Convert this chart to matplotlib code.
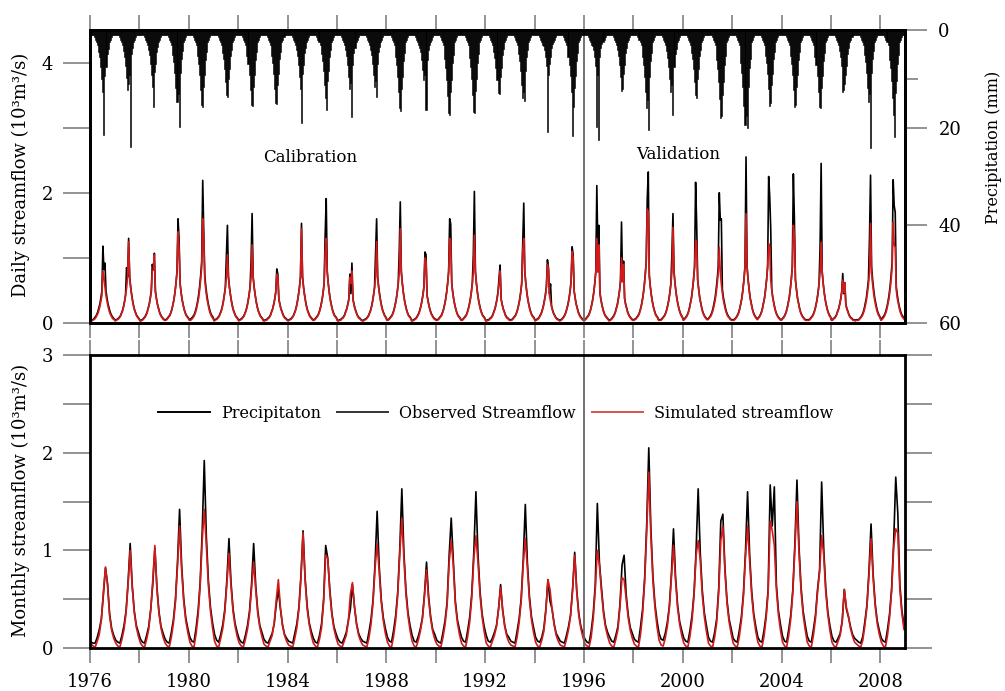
import matplotlib
matplotlib.use("Agg")
import matplotlib.pyplot as plt
from matplotlib.lines import Line2D
from matplotlib.ticker import MultipleLocator, FixedLocator
import numpy as np

plt.rcParams['font.family'] = 'DejaVu Serif'

# ---------------------------------------------------------------- data
years = np.arange(1976, 2009)
split_year = 1996

# daily panel, sampled twice a month (10^3 m3/s), one row per year
daily_obs = [
    [.04,.04,.05,.06,.08,.10,.13,.17, .23,.29,.38,.49,1.18,.82,.92,.49, .38,.29,.23,.17,.13,.10,.08,.06],  # 1976
    [.04,.05,.06,.07,.09,.11,.15,.19, .25,.33,.43,.85,.71,1.30,.71,.55, .43,.33,.25,.19,.15,.11,.09,.07],  # 1977
    [.04,.04,.05,.06,.08,.10,.13,.17, .23,.29,.38,.49,.90,.82,1.07,.49, .38,.29,.23,.17,.13,.10,.08,.06],  # 1978
    [.05,.05,.06,.08,.10,.12,.16,.21, .28,.36,.47,.61,.79,1.60,1.30,.61, .47,.36,.28,.21,.16,.12,.10,.08],  # 1979
    [.05,.06,.07,.09,.11,.14,.19,.25, .33,.43,.56,.73,.94,2.19,1.40,.73, .56,.43,.33,.25,.19,.14,.11,.09],  # 1980
    [.04,.05,.06,.07,.09,.11,.15,.19, .25,.33,.43,.55,1.02,1.50,.71,.55, .43,.33,.25,.19,.15,.11,.09,.07],  # 1981
    [.04,.05,.06,.07,.09,.11,.15,.19, .25,.33,.43,.55,.95,1.68,.71,.55, .43,.33,.25,.19,.15,.11,.09,.07],  # 1982
    [.04,.04,.05,.05,.07,.08,.10,.13, .18,.22,.29,.37,.48,.83,.75,.37, .29,.22,.18,.13,.10,.08,.07,.05],  # 1983
    [.04,.05,.06,.07,.09,.11,.15,.19, .25,.33,.43,.55,.71,1.53,.71,.55, .43,.33,.25,.19,.15,.11,.09,.07],  # 1984
    [.05,.05,.06,.08,.10,.12,.16,.21, .28,.36,.47,.61,1.35,1.91,.79,.61, .47,.36,.28,.21,.16,.12,.10,.08],  # 1985
    [.04,.04,.05,.05,.07,.08,.10,.13, .18,.22,.29,.37,.75,.45,.92,.37, .29,.22,.18,.13,.10,.08,.07,.05],  # 1986
    [.04,.04,.05,.06,.07,.09,.11,.15, .19,.25,.33,.43,.55,1.10,1.60,.71, .55,.43,.33,.25,.19,.15,.11,.09],  # 1987
    [.05,.05,.06,.08,.10,.12,.16,.21, .28,.36,.47,.61,1.10,1.86,.79,.61, .47,.36,.28,.21,.16,.12,.10,.08],  # 1988
    [.04,.04,.05,.06,.07,.09,.12,.15, .20,.26,.34,.43,.56,1.09,1.05,.43, .34,.26,.20,.15,.12,.09,.07,.06],  # 1989
    [.05,.05,.06,.08,.10,.12,.16,.21, .28,.36,.47,.61,.79,1.60,1.52,.61, .47,.36,.28,.21,.16,.12,.10,.08],  # 1990
    [.05,.05,.06,.08,.10,.12,.16,.21, .28,.36,.47,.61,1.05,2.02,.79,.61, .47,.36,.28,.21,.16,.12,.10,.08],  # 1991
    [.04,.04,.05,.05,.07,.08,.10,.13, .18,.22,.29,.37,.48,.70,.89,.37, .29,.22,.18,.13,.10,.08,.07,.05],  # 1992
    [.05,.05,.06,.08,.10,.12,.16,.21, .28,.36,.47,.61,1.20,1.84,.79,.61, .47,.36,.28,.21,.16,.12,.10,.08],  # 1993
    [.04,.05,.06,.07,.09,.12,.15,.20, .26,.34,.43,.56,.97,.85,.45,.60, .26,.20,.15,.12,.09,.07,.06,.05],  # 1994
    [.04,.05,.06,.08,.10,.13,.17,.23, .29,.38,.49,.64,1.17,1.05,.49,.38, .29,.23,.17,.13,.10,.08,.06,.05],  # 1995
    [.05,.06,.08,.10,.12,.16,.21,.28, .36,.47,.61,.79,2.11,1.10,1.50,.47, .36,.28,.21,.16,.12,.10,.08,.06],  # 1996
    [.04,.05,.06,.08,.10,.13,.17,.23, .29,.38,.49,.64,1.55,.64,.95,.38, .29,.23,.17,.13,.10,.08,.06,.05],  # 1997
    [.05,.06,.07,.09,.11,.14,.19,.25, .33,.43,.56,.73,.94,1.90,2.32,.73, .56,.43,.33,.25,.19,.14,.11,.09],  # 1998
    [.05,.05,.05,.06,.08,.10,.12,.16, .21,.28,.36,.47,.61,1.07,1.68,.79, .61,.47,.36,.28,.21,.16,.12,.10],  # 1999
    [.05,.06,.08,.10,.13,.17,.23,.31, .39,.52,.67,.87,2.16,1.55,.67,.52, .39,.31,.23,.17,.13,.10,.08,.06],  # 2000
    [.06,.08,.10,.13,.17,.23,.31,.39, .52,.67,.87,2.00,1.58,1.60,.52,.39, .31,.23,.17,.13,.10,.08,.06,.05],  # 2001
    [.05,.05,.06,.08,.10,.13,.17,.23, .31,.39,.52,.67,.87,2.55,.87,.67, .52,.39,.31,.23,.17,.13,.10,.08],  # 2002
    [.06,.08,.10,.13,.17,.23,.31,.39, .52,.67,.87,2.25,1.95,1.45,.52,.39, .31,.23,.17,.13,.10,.08,.06,.05],  # 2003
    [.06,.08,.10,.13,.17,.23,.31,.39, .52,.67,.87,2.29,1.60,.67,.52,.39, .31,.23,.17,.13,.10,.08,.06,.05],  # 2004
    [.05,.05,.05,.06,.08,.10,.12,.16, .21,.28,.36,.47,.61,1.20,2.45,.79, .61,.47,.36,.28,.21,.16,.12,.10],  # 2005
    [.05,.05,.07,.08,.10,.13,.18,.22, .29,.37,.48,.76,.45,.62,.29,.22, .18,.13,.10,.08,.07,.05,.05,.04],  # 2006
    [.05,.05,.05,.06,.08,.10,.13,.17, .23,.31,.39,.52,.67,1.30,2.27,.87, .67,.52,.39,.31,.23,.17,.13,.10],  # 2007
    [.06,.07,.09,.11,.14,.19,.25,.33, .43,.56,.73,.94,2.20,1.80,1.70,.56, .43,.33,.25,.19,.14,.11,.09,.07],  # 2008
]

daily_sim = [
    [.03,.03,.04,.05,.06,.08,.11,.14, .19,.25,.33,.42,.80,.71,.55,.42, .33,.25,.19,.14,.11,.08,.06,.05],  # 1976
    [.03,.04,.05,.06,.08,.10,.14,.18, .24,.32,.42,.54,.70,1.25,.70,.54, .42,.32,.24,.18,.14,.10,.08,.06],  # 1977
    [.03,.03,.04,.05,.07,.09,.12,.16, .22,.28,.37,.48,.80,.81,1.05,.48, .37,.28,.22,.16,.12,.09,.07,.05],  # 1978
    [.04,.04,.05,.07,.09,.11,.15,.20, .27,.35,.46,.60,.78,1.40,1.15,.60, .46,.35,.27,.20,.15,.11,.09,.07],  # 1979
    [.04,.04,.05,.07,.09,.12,.16,.22, .30,.38,.51,.66,.86,1.60,1.30,.66, .51,.38,.30,.22,.16,.12,.09,.07],  # 1980
    [.03,.04,.05,.06,.08,.10,.14,.18, .24,.32,.42,.54,.70,1.05,.70,.54, .42,.32,.24,.18,.14,.10,.08,.06],  # 1981
    [.03,.04,.05,.06,.08,.10,.14,.18, .24,.32,.42,.54,.70,1.20,.70,.54, .42,.32,.24,.18,.14,.10,.08,.06],  # 1982
    [.03,.03,.04,.04,.06,.07,.09,.12, .17,.21,.28,.36,.47,.75,.70,.36, .28,.21,.17,.12,.09,.07,.06,.04],  # 1983
    [.03,.04,.05,.06,.08,.10,.14,.18, .24,.32,.42,.54,.70,1.45,.70,.54, .42,.32,.24,.18,.14,.10,.08,.06],  # 1984
    [.04,.04,.05,.07,.09,.11,.15,.20, .27,.35,.46,.60,1.10,1.30,.78,.60, .46,.35,.27,.20,.15,.11,.09,.07],  # 1985
    [.03,.03,.04,.04,.06,.07,.09,.12, .17,.21,.28,.36,.70,.61,.80,.36, .28,.21,.17,.12,.09,.07,.06,.04],  # 1986
    [.03,.03,.04,.05,.06,.08,.10,.14, .18,.24,.32,.42,.54,.70,1.25,.70, .54,.42,.32,.24,.18,.14,.10,.08],  # 1987
    [.04,.04,.05,.07,.09,.11,.15,.20, .27,.35,.46,.60,.78,1.45,.78,.60, .46,.35,.27,.20,.15,.11,.09,.07],  # 1988
    [.03,.03,.04,.05,.06,.08,.11,.14, .19,.25,.33,.42,.55,1.00,.95,.42, .33,.25,.19,.14,.11,.08,.06,.05],  # 1989
    [.04,.04,.05,.07,.09,.11,.15,.20, .27,.35,.46,.60,.78,1.30,1.25,.60, .46,.35,.27,.20,.15,.11,.09,.07],  # 1990
    [.04,.04,.05,.07,.09,.11,.15,.20, .27,.35,.46,.60,.78,1.35,.78,.60, .46,.35,.27,.20,.15,.11,.09,.07],  # 1991
    [.03,.03,.04,.04,.06,.07,.09,.12, .17,.21,.28,.36,.47,.61,.80,.36, .28,.21,.17,.12,.09,.07,.06,.04],  # 1992
    [.04,.04,.05,.07,.09,.11,.15,.20, .27,.35,.46,.60,1.10,1.30,.78,.60, .46,.35,.27,.20,.15,.11,.09,.07],  # 1993
    [.03,.04,.05,.06,.08,.11,.14,.19, .25,.33,.42,.55,.90,.82,.42,.33, .25,.19,.14,.11,.08,.06,.05,.04],  # 1994
    [.03,.04,.05,.07,.09,.12,.16,.22, .28,.37,.48,.63,1.10,1.00,.48,.37, .28,.22,.16,.12,.09,.07,.05,.04],  # 1995
    [.04,.05,.07,.09,.11,.15,.20,.27, .35,.46,.60,.78,1.30,.78,1.20,.46, .35,.27,.20,.15,.11,.09,.07,.05],  # 1996
    [.03,.04,.05,.07,.09,.12,.16,.22, .28,.37,.48,.63,1.00,.63,.90,.37, .28,.22,.16,.12,.09,.07,.05,.04],  # 1997
    [.04,.05,.06,.08,.10,.13,.18,.24, .32,.42,.55,.72,.93,1.75,1.70,.72, .55,.42,.32,.24,.18,.13,.10,.08],  # 1998
    [.04,.04,.04,.05,.07,.09,.11,.15, .20,.27,.35,.46,.60,.78,1.47,.78, .60,.46,.35,.27,.20,.15,.11,.09],  # 1999
    [.04,.05,.07,.09,.12,.16,.22,.30, .38,.51,.66,.86,1.27,1.20,.66,.51, .38,.30,.22,.16,.12,.09,.07,.05],  # 2000
    [.05,.07,.09,.11,.15,.20,.27,.35, .46,.60,.78,1.16,.78,.60,.46,.35, .27,.20,.15,.11,.09,.07,.05,.04],  # 2001
    [.04,.04,.05,.07,.09,.12,.16,.22, .30,.38,.51,.66,.86,1.68,.86,.66, .51,.38,.30,.22,.16,.12,.09,.07],  # 2002
    [.05,.07,.09,.12,.16,.22,.30,.38, .51,.66,.86,1.22,1.15,.66,.51,.38, .30,.22,.16,.12,.09,.07,.05,.04],  # 2003
    [.05,.07,.09,.12,.16,.22,.30,.38, .51,.66,.86,1.50,1.35,.66,.51,.38, .30,.22,.16,.12,.09,.07,.05,.04],  # 2004
    [.04,.04,.04,.05,.07,.09,.11,.15, .20,.27,.35,.46,.60,.78,1.24,.78, .60,.46,.35,.27,.20,.15,.11,.09],  # 2005
    [.04,.04,.06,.07,.09,.12,.17,.21, .28,.36,.47,.66,.47,.62,.28,.21, .17,.12,.09,.07,.06,.04,.04,.03],  # 2006
    [.04,.04,.04,.05,.07,.09,.11,.15, .20,.27,.35,.46,.60,.78,1.53,.78, .60,.46,.35,.27,.20,.15,.11,.09],  # 2007
    [.04,.05,.07,.09,.12,.16,.22,.30, .38,.51,.66,.86,1.55,1.20,1.16,.51, .38,.30,.22,.16,.12,.09,.07,.05],  # 2008
]

# precipitation (mm), same half-month sampling
precip = [
    [1,1,1,1,1.5,2,2.5,3, 4.5,5.5,7.5,10,12.6,21.5,9.5,7.5, 5,3.8,2.5,2,1.5,1,1,1],       # 1976
    [1,1,1,1,1.5,2,2.5,3, 4.3,5.5,7.4,9.8,12.3,11,9.2,24, 4.9,3.7,2.5,2,1.5,1,1,1],       # 1977
    [1,1,1,1,1.5,2,2.5,3, 4,5.2,7,9.3,11.6,15.7,8.7,7, 4.6,3.5,2.5,2,1.5,1,1,1],          # 1978
    [1,1,1,1,1.5,2,2.5,3, 5.1,6.6,8.8,11.8,14.7,13.2,19.8,8.8, 5.9,4.4,2.5,2,1.5,1,1,1],  # 1979
    [1,1,1,1,1.5,2,2.5,3, 5.4,6.9,9.2,12.3,15.4,15.8,11.6,9.2, 6.2,4.6,2.5,2,1.5,1,1,1],  # 1980
    [1,1,1,1,1.5,2,2.5,3, 4.7,6,8,10.6,13.3,13.8,10,8, 5.3,4,2.5,2,1.5,1,1,1],            # 1981
    [1,1,1,1,1.5,2,2.5,3, 5.4,6.9,9.2,12.3,15.4,15.6,11.6,9.2, 6.2,4.6,2.5,2,1.5,1,1,1],  # 1982
    [1,1,1,1,1.5,2,2.5,3, 5.3,6.8,9,12,15,15.2,11.3,9, 6,4.5,2.5,2,1.5,1,1,1],            # 1983
    [1,1,1,1,1.5,2,2.5,3, 4.2,5.4,7.2,9.6,12,19.1,9,7.2, 4.8,3.6,2.5,2,1.5,1,1,1],        # 1984
    [1,1,1,1,1.5,2,2.5,3, 4.9,6.3,8.4,11.2,14,16.4,10.5,8.4, 5.6,4.2,2.5,2,1.5,1,1,1],    # 1985
    [1,1,1,1,1.5,2,2.5,3, 4.2,5.4,7.2,9.6,12,10.8,17.8,7.2, 4.8,3.6,2.5,2,1.5,1,1,1],     # 1986
    [1,1,1,1,1.5,2,2.5,3, 4,5.2,7,9.3,11.6,10.4,13.7,7, 4.6,3.5,2.5,2,1.5,1,1,1],         # 1987
    [1,1,1,1,1.5,2,2.5,3, 5.6,7.2,9.6,12.8,16,16.5,12,9.6, 6.4,4.8,2.5,2,1.5,1,1,1],      # 1988
    [1,1,1,1,1.5,2,2.5,3, 3.6,4.6,6.2,8.2,10.3,9.3,16.4,6.2, 4.1,3.1,2.5,2,1.5,1,1,1],    # 1989
    [1,1,1,1,1.5,2,2.5,3, 6,7.7,10.2,13.6,17,17.5,12.8,10.2, 6.8,5.1,2.5,2,1.5,1,1,1],    # 1990
    [1,1,1,1,1.5,2,2.5,3, 5.8,7.5,10,13.4,16.7,17,12.5,10, 6.7,5,2.5,2,1.5,1,1,1],        # 1991
    [1,1,1,1,1.5,2,2.5,3, 4.5,5.8,7.7,10.3,12.9,13.2,9.7,7.7, 5.2,3.9,2.5,2,1.5,1,1,1],   # 1992
    [1,1,1,1,1.5,2,2.5,3, 4.9,6.3,8.4,11.2,14,12.6,14.5,8.4, 5.6,4.2,2.5,2,1.5,1,1,1],    # 1993
    [1,1,1,1,1.5,2,2.5,3, 3.2,4.1,5.5,7.4,20.8,9.2,6.9,5.5, 3.7,2.8,2.5,2,1.5,1,1,1],     # 1994
    [1,1,1,1,1.5,2,2.5,3, 5.5,7.1,9.4,12.6,21.8,15.7,11.8,9.4, 6.3,4.7,2.5,2,1.5,1,1,1],  # 1995
    [1,1,1,1,1.5,2,2.5,3, 3.2,4.1,5.5,7.4,19.8,9.2,22.5,5.5, 3.7,2.8,2.5,2,1.5,1,1,1],    # 1996
    [1,1,1,1,1.5,2,2.5,3, 4.2,5.4,7.2,9.6,12.5,12,9,7.2, 4.8,3.6,2.5,2,1.5,1,1,1],        # 1997
    [1,1,1,1,1.5,2,2.5,3, 5.6,7.2,9.6,12.8,16,14.4,20.5,9.6, 6.4,4.8,2.5,2,1.5,1,1,1],    # 1998
    [1,1,1,1,1.5,2,2.5,3, 4.4,5.7,7.6,10.1,12.6,11.3,17.4,7.6, 5,3.8,2.5,2,1.5,1,1,1],    # 1999
    [1,1,1,1,1.5,2,2.5,3, 4.7,6,8,10.6,13.3,14,10,8, 5.3,4,2.5,2,1.5,1,1,1],              # 2000
    [1,1,1,1,1.5,2,2.5,3, 6.2,8,10.6,14.2,18,17.7,13.3,10.6, 7.1,5.3,2.5,2,1.5,1,1,1],    # 2001
    [1,1,1,1,1.5,2,2.5,3, 6.8,8.8,11.7,15.6,19.5,17.6,20,11.7, 7.8,5.9,2.5,2,1.5,1,1,1],  # 2002
    [1,1,1,1,1.5,2,2.5,3, 5.3,6.8,9,12,15.5,15,11.3,9, 6,4.5,2.5,2,1.5,1,1,1],            # 2003
    [1,1,1,1,1.5,2,2.5,3, 5.4,6.9,9.2,12.3,15.8,15.4,11.6,9.2, 6.2,4.6,2.5,2,1.5,1,1,1],  # 2004
    [1,1,1,1,1.5,2,2.5,3, 5.5,7.1,9.4,12.6,15.7,16,11.8,9.4, 6.3,4.7,2.5,2,1.5,1,1,1],    # 2005
    [1,1,1,1,1.5,2,2.5,3, 4.3,5.5,7.4,12.8,12.3,11,9.2,7.4, 4.9,3.7,2.5,2,1.5,1,1,1],     # 2006
    [1,1,1,1,1.5,2,2.5,3, 5.1,6.6,8.8,11.8,14.7,13.2,24.2,8.8, 5.9,4.4,2.5,2,1.5,1,1,1],  # 2007
    [1,1,1,1,1.5,2,2.5,3, 6.1,7.8,10.4,13.9,17.4,22,13,10.4, 7,5.2,2.5,2,1.5,1,1,1],      # 2008
]

# monthly panel (10^3 m3/s), Jan..Dec, one row per year
monthly_obs = [
    [.06,.05,.05,.11,.19,.30,.55,.82,.66,.35,.20,.13],       # 1976
    [.08,.06,.05,.13,.23,.38,.68,1.07,.64,.38,.23,.16],      # 1977
    [.09,.06,.05,.13,.22,.40,.66,1.02,.62,.37,.22,.15],      # 1978
    [.09,.06,.05,.16,.29,.50,.88,1.42,.85,.51,.31,.20],      # 1979
    [.11,.07,.06,.20,.38,.67,1.19,1.92,1.15,.69,.42,.26],    # 1980
    [.14,.08,.06,.14,.24,.40,.70,1.12,.67,.40,.25,.16],      # 1981
    [.09,.06,.05,.13,.23,.38,.66,1.07,.64,.38,.23,.16],      # 1982
    [.09,.06,.05,.10,.15,.25,.45,.60,.40,.24,.14,.10],       # 1983
    [.07,.06,.05,.15,.25,.42,.75,1.20,.72,.43,.26,.17],      # 1984
    [.10,.06,.05,.13,.25,.50,1.05,.92,.60,.36,.22,.15],      # 1985
    [.09,.06,.05,.10,.16,.28,.40,.65,.42,.25,.15,.10],       # 1986
    [.07,.06,.05,.16,.29,.49,.87,1.40,.84,.50,.31,.20],      # 1987
    [.11,.07,.06,.18,.33,.57,1.01,1.63,.98,.59,.36,.23],     # 1988
    [.13,.07,.06,.12,.20,.31,.55,.88,.53,.32,.19,.14],       # 1989
    [.08,.06,.05,.16,.28,.47,.95,1.33,.90,.48,.29,.19],      # 1990
    [.11,.07,.06,.18,.32,.56,.99,1.60,.96,.58,.35,.22],      # 1991
    [.13,.07,.06,.10,.16,.23,.40,.65,.39,.23,.14,.11],       # 1992
    [.07,.06,.05,.17,.30,.51,.91,1.47,.88,.53,.32,.21],      # 1993
    [.11,.07,.06,.11,.20,.40,.70,.48,.40,.25,.15,.11],       # 1994
    [.07,.06,.05,.13,.22,.34,.61,.98,.59,.35,.22,.15],       # 1995
    [.09,.06,.05,.17,.35,.65,1.48,.88,.62,.38,.23,.16],      # 1996
    [.11,.07,.06,.13,.22,.45,.85,.95,.55,.34,.21,.15],       # 1997
    [.09,.07,.06,.22,.40,.72,1.27,2.05,1.23,.74,.45,.28],    # 1998
    [.15,.09,.08,.15,.26,.43,.76,1.22,.73,.44,.27,.18],      # 1999
    [.10,.07,.06,.18,.33,.57,1.01,1.63,.98,.59,.36,.23],     # 2000
    [.11,.07,.06,.16,.30,.62,1.30,1.37,.82,.49,.30,.20],     # 2001
    [.10,.07,.06,.18,.32,.56,.99,1.60,.96,.58,.35,.22],      # 2002
    [.11,.07,.06,.18,.34,.60,1.67,1.25,1.65,.65,.38,.24],    # 2003
    [.12,.07,.06,.19,.34,.60,1.07,1.72,1.03,.62,.38,.24],    # 2004
    [.12,.07,.06,.19,.34,.60,.80,1.70,1.02,.61,.37,.23],     # 2005
    [.12,.07,.06,.10,.15,.28,.60,.40,.32,.22,.14,.10],       # 2006
    [.08,.06,.05,.12,.27,.44,.79,1.27,.76,.46,.28,.18],      # 2007
    [.10,.07,.06,.19,.35,.61,1.09,1.75,1.38,.65,.38,.24],    # 2008
]

monthly_sim = [
    [.04,.02,.01,.07,.14,.29,.58,.83,.64,.33,.18,.10],       # 1976
    [.05,.02,.01,.09,.19,.36,.66,1.00,.62,.36,.21,.12],      # 1977
    [.05,.02,.01,.09,.19,.39,.70,1.05,.60,.35,.20,.11],      # 1978
    [.05,.02,.01,.11,.25,.47,.84,1.25,.80,.48,.28,.16],      # 1979
    [.06,.02,.01,.14,.33,.63,1.10,1.42,1.05,.64,.38,.21],    # 1980
    [.07,.02,.01,.10,.20,.37,.66,.97,.63,.37,.22,.12],       # 1981
    [.05,.02,.01,.09,.19,.35,.62,.88,.60,.35,.21,.12],       # 1982
    [.04,.02,.01,.07,.13,.26,.50,.70,.42,.23,.13,.07],       # 1983
    [.03,.02,.01,.10,.21,.40,.72,1.18,.69,.40,.24,.13],      # 1984
    [.05,.02,.01,.09,.21,.47,.95,.92,.57,.34,.20,.11],       # 1985
    [.04,.02,.01,.07,.13,.27,.55,.67,.42,.24,.13,.07],       # 1986
    [.03,.02,.01,.10,.24,.46,.82,1.07,.78,.47,.28,.15],      # 1987
    [.06,.02,.01,.12,.28,.54,.96,1.33,.92,.55,.33,.18],      # 1988
    [.07,.02,.01,.08,.17,.30,.53,.80,.50,.30,.17,.09],       # 1989
    [.04,.02,.01,.11,.24,.44,.88,1.10,.85,.45,.26,.14],      # 1990
    [.05,.02,.01,.12,.27,.52,.92,1.15,.88,.54,.32,.17],      # 1991
    [.05,.02,.01,.07,.13,.22,.40,.62,.38,.22,.12,.06],       # 1992
    [.03,.02,.01,.11,.26,.48,.86,1.12,.82,.49,.29,.16],      # 1993
    [.06,.02,.01,.08,.17,.38,.70,.60,.40,.24,.13,.07],       # 1994
    [.03,.02,.01,.09,.19,.33,.60,.95,.57,.33,.20,.11],       # 1995
    [.04,.02,.01,.11,.30,.60,1.00,.85,.58,.35,.21,.12],      # 1996
    [.05,.02,.01,.09,.19,.42,.72,.70,.50,.31,.18,.10],       # 1997
    [.04,.02,.01,.14,.35,.68,1.20,1.80,1.15,.69,.41,.22],    # 1998
    [.08,.03,.02,.10,.22,.41,.72,1.05,.69,.41,.24,.13],      # 1999
    [.05,.02,.01,.12,.28,.54,.95,1.10,.90,.54,.32,.17],      # 2000
    [.05,.02,.01,.11,.26,.58,1.10,1.25,.78,.46,.27,.15],     # 2001
    [.05,.02,.01,.12,.28,.53,.94,1.25,.90,.54,.32,.17],      # 2002
    [.06,.02,.01,.12,.30,.57,1.30,1.20,1.05,.60,.34,.18],    # 2003
    [.06,.02,.01,.13,.30,.57,1.02,1.50,.97,.58,.34,.19],     # 2004
    [.06,.02,.01,.13,.30,.57,.78,1.15,.95,.57,.34,.18],      # 2005
    [.06,.02,.01,.07,.13,.27,.60,.42,.33,.20,.12,.06],       # 2006
    [.04,.02,.01,.08,.23,.42,.75,1.12,.72,.43,.25,.14],      # 2007
    [.06,.02,.01,.13,.31,.58,1.03,1.22,1.18,.60,.35,.19],    # 2008
]

legend_labels = ['Precipitaton', 'Observed Streamflow', 'Simulated streamflow']

# ---------------------------------------------------------------- plot
t_day = (years[:, None] + (np.arange(24) + 0.5) / 24).ravel()
t_mon = (years[:, None] + (np.arange(12) + 0.5) / 12).ravel()

red = '#d21a1a'
tick_grey = '#8a8a8a'

fig = plt.figure(figsize=(10.05, 6.91), dpi=100)
ax1 = fig.add_axes([0.0896, 0.5326, 0.8109, 0.424])
ax3 = fig.add_axes([0.0896, 0.0622, 0.8109, 0.424])
ax2 = ax1.twinx()

# top: daily streamflow + precipitation hanging from the top
ax1.plot(t_day, np.ravel(daily_obs), color='black', lw=1.2)
ax1.plot(t_day, np.ravel(daily_sim), color=red, lw=1.2)
ax1.axvline(split_year, color='#666666', lw=1.3)
ax1.text(1984.9, 2.54, 'Calibration', ha='center', va='center', fontsize=12)
ax1.text(1999.8, 2.59, 'Validation', ha='center', va='center', fontsize=12)
ax1.set_xlim(1976, 2009)
ax1.set_ylim(0, 4.5)

ax2.bar(t_day, np.ravel(precip), width=1/24, color='black',
        edgecolor='black', linewidth=0.4)
ax2.set_ylim(60, 0)

# bottom: monthly streamflow
ax3.plot(t_mon, np.ravel(monthly_obs), color='black', lw=1.2)
ax3.plot(t_mon, np.ravel(monthly_sim), color=red, lw=1.2)
ax3.axvline(split_year, color='#666666', lw=1.3)
ax3.set_xlim(1976, 2009)
ax3.set_ylim(0, 3)

handles = [Line2D([], [], color='black', lw=1.4),
           Line2D([], [], color='#333333', lw=1.4),
           Line2D([], [], color='#dd5050', lw=1.4)]
ax3.legend(handles, legend_labels, loc='center', bbox_to_anchor=(0.498, 0.802),
           ncol=3, frameon=False, fontsize=11.5, handlelength=3.2,
           handletextpad=0.7, columnspacing=1.0)

# ticks and frames
for ax in (ax1, ax3):
    ax.xaxis.set_major_locator(MultipleLocator(4))
    ax.xaxis.set_minor_locator(MultipleLocator(2))
    ax.tick_params(axis='x', which='both', direction='out', top=True, bottom=True,
                   length=11, width=1.3, color=tick_grey, labelsize=13, pad=7)
for ax in (ax1, ax2, ax3):
    for s in ax.spines.values():
        s.set_linewidth(2)
ax1.tick_params(axis='x', labelbottom=False)

ax1.yaxis.set_major_locator(MultipleLocator(2))
ax1.yaxis.set_minor_locator(MultipleLocator(1))
ax1.tick_params(axis='y', which='both', left=True, right=False, length=19.5,
                width=1.3, color=tick_grey, labelsize=13, pad=7)

ax2.yaxis.set_major_locator(FixedLocator([0, 20, 40, 60]))
ax2.yaxis.set_minor_locator(FixedLocator([10]))
ax2.tick_params(axis='y', which='major', length=16, width=1.3, color=tick_grey,
                labelsize=13, pad=8)
ax2.tick_params(axis='y', which='minor', length=9, width=1.3, color=tick_grey)

ax3.yaxis.set_major_locator(MultipleLocator(1))
ax3.yaxis.set_minor_locator(MultipleLocator(0.5))
ax3.tick_params(axis='y', which='both', left=True, right=True, length=19.5,
                width=1.3, color=tick_grey, labelsize=13, pad=7)
ax3.tick_params(axis='y', which='both', labelright=False)

fig.text(0.021, 0.747, 'Daily streamflow (10³m³/s)', rotation=90,
         ha='center', va='center', fontsize=13)
fig.text(0.021, 0.276, 'Monthly streamflow (10³m³/s)', rotation=90,
         ha='center', va='center', fontsize=13)
fig.text(0.9885, 0.786, 'Precipitation (mm)', rotation=90,
         ha='center', va='center', fontsize=11.5)

fig.savefig('out.png', dpi=100)
